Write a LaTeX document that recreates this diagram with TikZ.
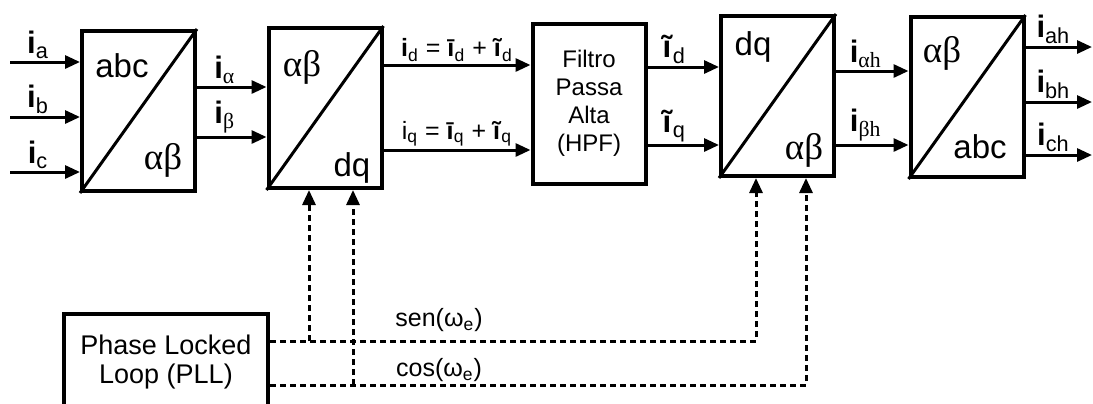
\documentclass[tikz,border=0pt]{standalone}
\usepackage{fontspec}
\setmainfont{Liberation Sans}
\newfontfamily\grk{Liberation Serif}
\usetikzlibrary{arrows.meta, positioning}

\newcommand{\cur}[1]{\textbf{i}\textsubscript{#1}}
\newcommand{\gcur}[1]{\textbf{i}\textsubscript{\grk #1}}
\newcommand{\ibar}{\textbf{ī}}
\newcommand{\itil}{\textbf{ĩ}}

\begin{document}
\begin{tikzpicture}[
  x=0.5pt, y=-0.5pt,
  block/.style={draw, line width=2pt, minimum width=56.5pt, minimum height=80pt,
                inner sep=0pt},
  arr/.style={-{Triangle[length=7.5pt, width=6.5pt]}, line width=1.5pt},
  darr/.style={arr, dash pattern=on 3pt off 2pt},
  lbl/.style={above, pos=0.4, inner sep=1pt, font=\fontsize{15.5}{17}\selectfont},
  blab/.style={inner sep=0pt, font=\fontsize{16.5}{19}\selectfont},
  gblab/.style={inner sep=0pt, font=\fontsize{18.5}{21}\selectfont\grk},
  every node/.style={font=\fontsize{12.5}{14.5}\selectfont}
]
  \useasboundingbox (0,0) rectangle (1093,403);

  \node[block] (b1) at (138.5,111) {};
  \node[block] (b2) at (325,108) {};
  \node[block, align=center, font=\fontsize{12}{14}\selectfont] (b3) at (589,103.5)
       {Filtro\\Passa\\Alta\\(HPF)};
  \node[block] (b4) at (777.5,96) {};
  \node[block] (b5) at (967,97) {};
  \node[draw, line width=2pt, minimum width=102pt, minimum height=48pt, align=center,
        inner sep=0pt, font=\fontsize{13.5}{14.5}\selectfont] (pll) at (166,362)
       {Phase Locked\\Loop (PLL)};

  \foreach \b in {b1,b2,b4,b5}
    \draw[line width=1.5pt] (\b.south west) -- (\b.north east);

  \node[blab] (b1-in) at (122,66) {abc};
  \node[gblab] (b1-out) at (163,160) {αβ};
  \node[gblab] (b2-in) at (302,67) {αβ};
  \node[blab] (b2-out) at (352,168) {dq};
  \node[blab] (b4-in) at (753,47) {dq};
  \node[gblab] (b4-out) at (804,150) {αβ};
  \node[gblab] (b5-in) at (942,53) {αβ};
  \node[blab] (b5-out) at (980,147) {abc};

  \coordinate (ia) at (10,62);
  \coordinate (ib) at (10,117);
  \coordinate (ic) at (10,172);
  \draw[arr] (ia) -- (ia -| b1.west) node[lbl]{\cur{a}};
  \draw[arr] (ib) -- (ib -| b1.west) node[lbl]{\cur{b}};
  \draw[arr] (ic) -- (ic -| b1.west) node[lbl]{\cur{c}};

  \coordinate (yal) at (0,87);
  \coordinate (ybe) at (0,137);
  \draw[arr] (b1.east |- yal) -- (b2.west |- yal) node[lbl]{\gcur{α}};
  \draw[arr] (b1.east |- ybe) -- (b2.west |- ybe) node[lbl]{\gcur{β}};

  \coordinate (yd) at (0,65);
  \coordinate (yq) at (0,150);
  \draw[arr] (b2.east |- yd) -- (b3.west |- yd)
    node[lbl, pos=0.5, font=\fontsize{12.5}{14}\selectfont]
    {\cur{d} = \ibar\textsubscript{d} + \itil\textsubscript{d}};
  \draw[arr] (b2.east |- yq) -- (b3.west |- yq)
    node[lbl, pos=0.5, font=\fontsize{12.5}{14}\selectfont]
    {i\textsubscript{q} = \ibar\textsubscript{q} + \itil\textsubscript{q}};

  \coordinate (yfd) at (0,67);
  \coordinate (yfq) at (0,145);
  \draw[arr] (b3.east |- yfd) -- (b4.west |- yfd) node[lbl, pos=0.375]{\itil\textsubscript{d}};
  \draw[arr] (b3.east |- yfq) -- (b4.west |- yfq) node[lbl, pos=0.375]{\itil\textsubscript{q}};

  \coordinate (yah) at (0,71);
  \coordinate (ybh) at (0,145);
  \draw[arr] (b4.east |- yah) -- (b5.west |- yah) node[lbl, pos=0.41]{\gcur{αh}};
  \draw[arr] (b4.east |- ybh) -- (b5.west |- ybh) node[lbl, pos=0.41]{\gcur{βh}};

  \coordinate (oa) at (1092,47);
  \coordinate (ob) at (1092,102);
  \coordinate (oc) at (1092,155);
  \draw[arr] (b5.east |- oa) -- (oa) node[lbl, pos=0.42]{\cur{ah}};
  \draw[arr] (b5.east |- ob) -- (ob) node[lbl, pos=0.42]{\cur{bh}};
  \draw[arr] (b5.east |- oc) -- (oc) node[lbl, pos=0.42]{\cur{ch}};

  \coordinate (sen) at (756,341);
  \coordinate (cos) at (806,385);
  \coordinate (senj) at (309,341);
  \coordinate (cosj) at (353,385);
  \draw[darr] (pll.east |- sen) -| (b4.south -| sen);
  \draw[darr] (pll.east |- cos) -| (b4.south -| cos);
  \draw[darr] (senj) -- (b2.south -| senj);
  \draw[darr] (cosj) -- (b2.south -| cosj);

  \node (sen-lbl) at (439,320) {sen(ω\textsubscript{e})};
  \node (cos-lbl) at (439,370) {cos(ω\textsubscript{e})};
\end{tikzpicture}
\end{document}
